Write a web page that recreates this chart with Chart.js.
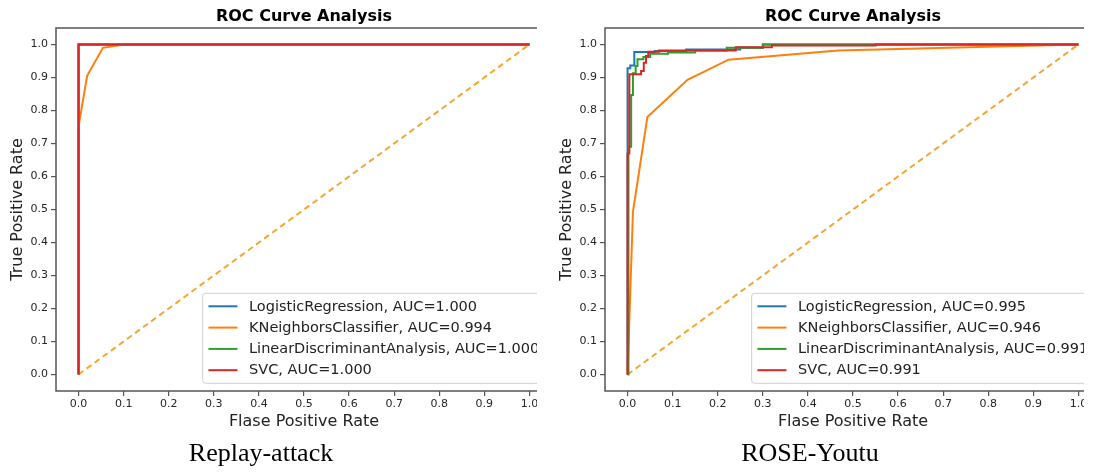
<!DOCTYPE html>
<html><head><meta charset="utf-8">
<script src="https://cdn.jsdelivr.net/npm/chart.js@4.4.1/dist/chart.umd.min.js"></script>
<style>
html,body{margin:0;padding:0;background:#fff;}
body{width:1097px;height:473px;position:relative;overflow:hidden;}
.panel{position:absolute;top:0;height:473px;overflow:hidden;}
.panel canvas{display:block;}
.caption{position:absolute;font-family:"Liberation Serif","Times New Roman",serif;font-size:26px;color:#000;white-space:nowrap;transform:translateX(-50%);line-height:1;}
</style></head><body>
<div class="panel" style="left:0;width:537px"><canvas id="c1" width="552" height="473"></canvas></div>
<div class="panel" style="left:549px;width:535px"><canvas id="c2" width="552" height="473"></canvas></div>
<div class="caption" style="left:261px;top:440px">Replay-attack</div>
<div class="caption" style="left:810px;top:440px">ROSE-Youtu</div>
<script>
// ---------- data ----------
const tickValues = [0, 0.1, 0.2, 0.3, 0.4, 0.5, 0.6, 0.7, 0.8, 0.9, 1.0];
const diagFpr = [0, 1];
const diagTpr = [0, 1];

// Replay-attack
const rpLabels = ['LogisticRegression, AUC=1.000', 'KNeighborsClassifier, AUC=0.994', 'LinearDiscriminantAnalysis, AUC=1.000', 'SVC, AUC=1.000'];
const rpLrFpr = [0, 0, 1];
const rpLrTpr = [0, 1, 1];
const rpKnFpr = [0, 0, 0.019, 0.054, 0.10, 1];
const rpKnTpr = [0, 0.751, 0.905, 0.99, 1.0, 1];
const rpLdFpr = [0, 0, 1];
const rpLdTpr = [0, 1, 1];
const rpSvFpr = [0, 0, 1];
const rpSvTpr = [0, 1, 1];

// ROSE-Youtu
const ryLabels = ['LogisticRegression, AUC=0.995', 'KNeighborsClassifier, AUC=0.946', 'LinearDiscriminantAnalysis, AUC=0.991', 'SVC, AUC=0.991'];
const ryLrFpr = [0, 0, 0.006, 0.006, 0.015, 0.015, 0.06, 0.06, 0.13, 0.13, 0.25, 0.25, 0.30, 0.30, 1];
const ryLrTpr = [0, 0.928, 0.928, 0.936, 0.936, 0.977, 0.977, 0.98, 0.98, 0.985, 0.985, 0.99, 0.99, 1, 1];
const ryKnFpr = [0, 0.012, 0.044, 0.133, 0.224, 0.467, 1];
const ryKnTpr = [0, 0.493, 0.78, 0.893, 0.954, 0.982, 1];
const ryLdFpr = [0, 0.002, 0.002, 0.008, 0.008, 0.012, 0.012, 0.018, 0.018, 0.022, 0.022, 0.035, 0.035, 0.05, 0.05, 0.09, 0.09, 0.15, 0.15, 0.22, 0.22, 0.30, 0.30, 1];
const ryLdTpr = [0, 0, 0.69, 0.69, 0.847, 0.847, 0.913, 0.913, 0.935, 0.935, 0.955, 0.955, 0.962, 0.962, 0.972, 0.972, 0.976, 0.976, 0.982, 0.982, 0.99, 0.99, 1, 1];
const rySvFpr = [0, 0, 0.004, 0.004, 0.03, 0.03, 0.036, 0.036, 0.041, 0.041, 0.046, 0.046, 0.07, 0.07, 0.24, 0.24, 0.32, 0.32, 0.55, 0.55, 1];
const rySvTpr = [0, 0.67, 0.67, 0.91, 0.91, 0.92, 0.92, 0.945, 0.945, 0.965, 0.965, 0.978, 0.978, 0.982, 0.982, 0.992, 0.992, 0.997, 0.997, 1, 1];

// ---------- styles ----------
const colors = ['#1f77b4', '#ff7f0e', '#2ca02c', '#d62728'];
const diagColor = '#f2a633';
const FONT = "'DejaVu Sans', sans-serif";

function pts(xs, ys) { return xs.map((x, i) => ({x: x, y: ys[i]})); }

function buildDatasets(series, labels) {
  const ds = series.map((s, i) => ({
    label: labels[i],
    data: pts(s[0], s[1]),
    borderColor: colors[i],
    backgroundColor: colors[i],
    borderWidth: 2,
    showLine: true,
    pointRadius: 0,
    tension: 0,
    order: 4 - i
  }));
  ds.push({
    label: '_diag',
    data: pts(diagFpr, diagTpr),
    borderColor: diagColor,
    borderWidth: 2,
    borderDash: [6, 4],
    showLine: true,
    pointRadius: 0,
    order: 10
  });
  return ds;
}

const framePlugin = {
  id: 'frame',
  afterDatasetsDraw(chart) {
    const a = chart.chartArea, ctx = chart.ctx;
    ctx.save();
    ctx.strokeStyle = '#555';
    ctx.lineWidth = 1.5;
    ctx.strokeRect(a.left, a.top, a.right - a.left, a.bottom - a.top);
    ctx.restore();
  }
};

const legendPlugin = {
  id: 'roclegend',
  afterDraw(chart) {
    const ctx = chart.ctx, a = chart.chartArea;
    const fs = 14.5;
    const items = chart.data.datasets.filter(d => d.label[0] !== '_');
    ctx.save();
    ctx.font = fs + 'px ' + FONT;
    let maxW = 0;
    items.forEach(d => { maxW = Math.max(maxW, ctx.measureText(d.label).width); });
    const pad = 5.8, hl = 29, htp = 11.6, rowH = 21.3;
    const w = pad + hl + htp + maxW + pad;
    const h = 90;
    const right = a.right - 7;
    const bottom = a.bottom - 7.7;
    const left = right - w, top = bottom - h;
    ctx.beginPath();
    ctx.roundRect(left, top, w, h, 3);
    ctx.fillStyle = 'rgba(255,255,255,0.85)';
    ctx.fill();
    ctx.strokeStyle = '#d0d0d0';
    ctx.lineWidth = 1;
    ctx.stroke();
    items.forEach((d, i) => {
      const cy = top + 13 + i * rowH;
      ctx.beginPath();
      ctx.moveTo(left + pad, cy);
      ctx.lineTo(left + pad + hl, cy);
      ctx.strokeStyle = d.borderColor;
      ctx.lineWidth = 2;
      ctx.stroke();
      ctx.fillStyle = '#222';
      ctx.textBaseline = 'middle';
      ctx.textAlign = 'left';
      ctx.fillText(d.label, left + pad + hl + htp, cy + 0.5);
    });
    ctx.restore();
  }
};

function makeChart(id, series, labels) {
  return new Chart(document.getElementById(id), {
    type: 'scatter',
    data: { datasets: buildDatasets(series, labels) },
    plugins: [framePlugin, legendPlugin],
    options: {
      responsive: false,
      devicePixelRatio: 1,
      animation: false,
      layout: { padding: { left: 0, right: 0, top: 0, bottom: 42 } },
      plugins: {
        legend: { display: false },
        tooltip: { enabled: false },
        title: {
          display: true,
          text: 'ROC Curve Analysis',
          fullSize: false,
          color: '#000',
          font: { family: FONT, size: 16, weight: 'bold' },
          padding: { top: 7, bottom: 1.8 }
        }
      },
      scales: {
        x: {
          type: 'linear',
          min: -0.05, max: 1.05,
          afterBuildTicks(scale) { scale.ticks = tickValues.map(v => ({ value: v })); },
          afterFit(scale) { scale.height = 40; },
          border: { display: false },
          grid: { drawOnChartArea: false, drawTicks: true, tickLength: 5, color: '#555', lineWidth: 1.2 },
          ticks: {
            color: '#262626', padding: 1.5, maxRotation: 0, autoSkip: false,
            font: { family: FONT, size: 11 },
            callback: v => Number(v).toFixed(1)
          },
          title: {
            display: true, text: 'Flase Positive Rate', color: '#222',
            font: { family: FONT, size: 16 }, padding: { top: 0, bottom: 0 }
          }
        },
        y: {
          type: 'linear',
          min: -0.05, max: 1.05,
          afterBuildTicks(scale) { scale.ticks = tickValues.map(v => ({ value: v })); },
          afterFit(scale) { scale.width = 56; },
          border: { display: false },
          grid: { drawOnChartArea: false, drawTicks: true, tickLength: 5, color: '#555', lineWidth: 1.2 },
          ticks: {
            color: '#262626', padding: 3, autoSkip: false,
            font: { family: FONT, size: 11 },
            callback: v => Number(v).toFixed(1)
          },
          title: {
            display: true, text: 'True Positive Rate', color: '#222',
            font: { family: FONT, size: 16 }, padding: { top: 8, bottom: 0 }
          }
        }
      }
    }
  });
}

makeChart('c1', [[rpLrFpr, rpLrTpr], [rpKnFpr, rpKnTpr], [rpLdFpr, rpLdTpr], [rpSvFpr, rpSvTpr]], rpLabels);
makeChart('c2', [[ryLrFpr, ryLrTpr], [ryKnFpr, ryKnTpr], [ryLdFpr, ryLdTpr], [rySvFpr, rySvTpr]], ryLabels);
</script>
</body></html>
